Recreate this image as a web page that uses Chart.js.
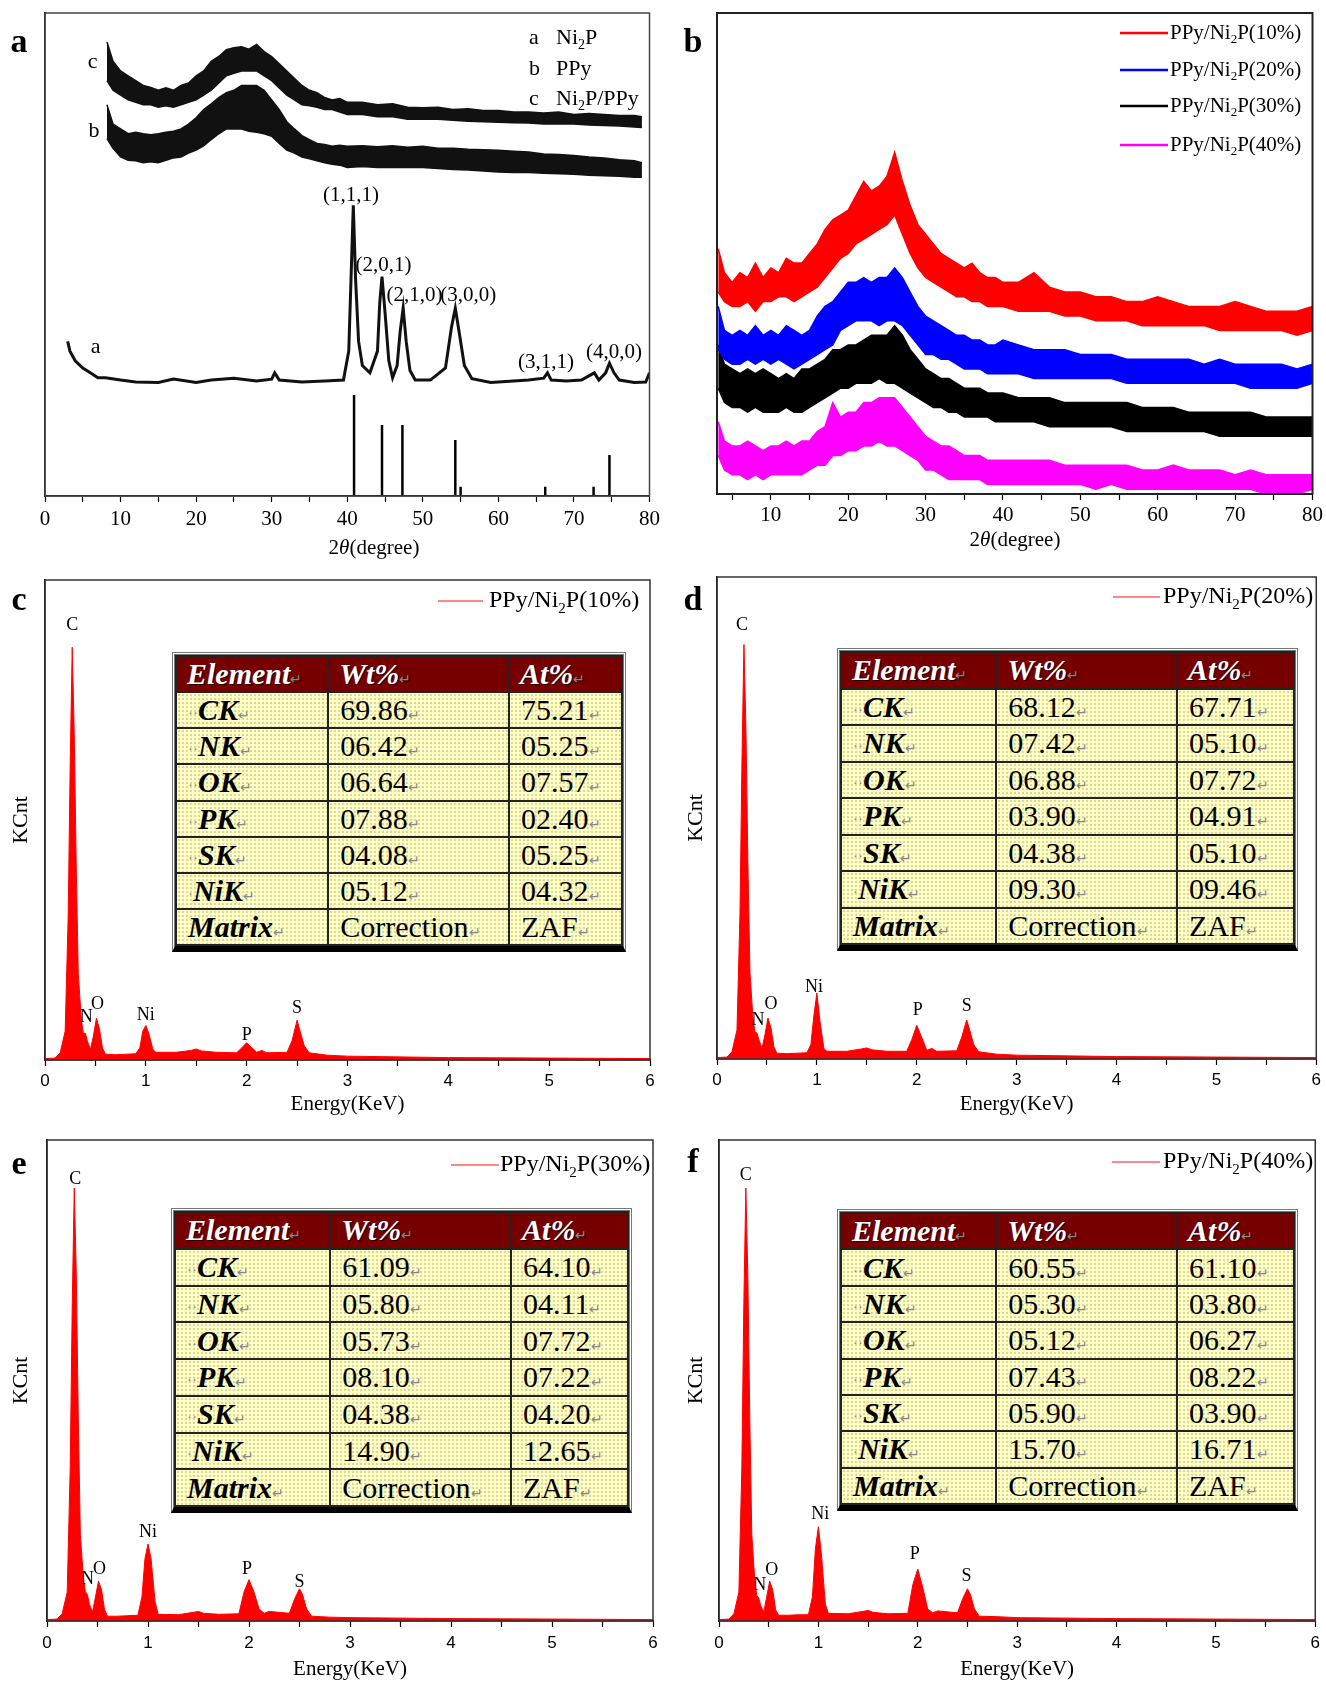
<!DOCTYPE html>
<html>
<head>
<meta charset="utf-8">
<script src="https://cdn.jsdelivr.net/npm/chart.js@4.4.0/dist/chart.umd.min.js"></script>
<style>
body{margin:0;background:#fff;width:1326px;height:1684px;position:relative;overflow:hidden;font-family:"Liberation Serif",serif;}
canvas{position:absolute;}
.tbl{position:absolute;box-sizing:border-box;border:3px double #777;border-bottom:6px solid #000;background:#fff;z-index:2;}
.tbl table{width:100%;height:100%;border-collapse:collapse;table-layout:fixed;font-family:"Liberation Serif",serif;font-size:30px;}
.tbl th{background:#760000;color:#fff;font-weight:bold;font-style:italic;text-align:left;padding:0 0 0 10px;border:2px solid #222;text-shadow:1px 1px 0 #2a0000;white-space:nowrap;overflow:hidden;}
.tbl td{border:2px solid #222;padding:0 0 0 11px;white-space:nowrap;overflow:hidden;color:#000;
  background-color:#ffffc6;background-image:radial-gradient(circle,#dcd89a 0.9px,transparent 1.1px);background-size:4px 4px;}
.tbl .el{font-weight:bold;font-style:italic;}
.tbl .dt{color:#888;font-size:15px;font-weight:normal;font-style:normal;vertical-align:middle;}
.tbl .rt{color:#888;font-size:14px;font-weight:normal;font-style:normal;}
</style>
</head>
<body>
<canvas id="pa" width="665" height="560" style="left:0;top:0"></canvas>
<canvas id="pb" width="658" height="560" style="left:668px;top:0"></canvas>
<canvas id="pc" width="665" height="560" style="left:0;top:565px"></canvas>
<canvas id="pd" width="658" height="560" style="left:668px;top:565px"></canvas>
<canvas id="pe" width="665" height="559" style="left:0;top:1125px"></canvas>
<canvas id="pf" width="658" height="559" style="left:668px;top:1125px"></canvas>
<script>
// ---- panel a : XRD of Ni2P, PPy, Ni2P/PPy ----
var xA = [8.2,9,10,11,12,13,14,15,16,17,18,19,20,21,22,23,24,25,26,27,28,29,30,31,32,33,34,35,36,37,38,39,40,
  42,44,46,48,50,52,54,56,58,60,62,64,66,68,70,72,74,76,78,79];
var cHi = [94,90,88,87,86,85,84.6,84,84.5,84,85,85.5,87,88,90,91,92.4,92.8,93,92.5,93.5,92,91,89.5,88,86.5,85,84,83.5,82.5,82,82.3,81.5,
  81.5,81,81.2,80.5,80.4,80.5,80,80.2,79.8,79.8,79.5,79.5,79.3,79.5,79,79.2,79,78.8,78.8,78.5];
var cLo = [86,84,83,82,81.5,81,81,80.5,80.8,80.5,81,81.5,82,83,84,85.5,87,87.5,88,88,88,87,86,84.5,83,82,81,80.8,80.5,80,80,79.5,79,
  79,78.5,78.5,78,78,78,77.8,77.6,77.5,77.4,77.3,77.2,77,77,77,76.8,76.7,76.6,76.4,76.3];
var bHi = [81,77,76,75,75.3,75,74.8,75,75.3,75.5,76,77,78.3,80,81.2,82.5,83.5,84,85,85,85,84,82,80,77.5,76,74.6,73.8,73,72.8,72.4,72.6,72.4,
  72.5,72.3,72.5,72.2,72.4,72,72,71.8,71.7,71.6,71.4,71.2,70.8,70.7,70.5,70.2,70,69.6,69.4,69];
var bLo = [74,72,70.2,69.5,69.4,69,69.2,69,69.5,70,70.2,71,71.6,72.5,73.8,75,76,76,76,75.5,75.3,75,74.5,73,71.6,71,70.2,69.8,69.4,69,68.7,68.5,68,
  68.2,68,68,68,68,67.8,67.6,67.5,67.3,67.1,67,67,66.8,66.7,66.6,66.4,66.3,66.2,66,66];
var ni2pX = [3,3.3,4,5,6,7,8,10,12,15,17,20,22,25,28,30,30.4,31,34,37,39.5,40.2,40.5,40.8,41.1,41.5,42,43,44,44.3,
  44.6,45,45.5,46,46.6,47,47.4,47.8,48.3,49,51,53,53.8,54.3,54.8,55.5,56.5,59,62,64,66,66.5,67,69,71,72.7,73.3,74.2,74.7,75.3,76,78,79.5,80];
var ni2pY = [32,30,28,26.5,25.5,24.5,24.5,24,23.6,23.5,24.2,23.5,24,24.4,23.8,24.2,25.5,24,23.6,23.8,24,30,45,60.2,45,32,27,25.5,30,40,
  45.4,38,28,24.5,27,34,38.9,32,26,24,24,26.5,35,38.9,34,27,24.3,23.5,23.8,24,24.4,25.5,24,23.8,24,25.5,24,25.5,27.5,25.5,24,23.5,23.6,25.5];
var stickPos = [40.9,44.6,47.3,54.3,55.0,66.2,72.6,74.7];
var stickInt = [20.9,14.7,14.7,11.6,1.9,1.9,1.9,8.5];
var hklText = ['(1,1,1)','(2,0,1)','(2,1,0)','(3,0,0)','(3,1,1)','(4,0,0)'];
var hklX = [40.5,44.8,48.9,56.0,66.3,75.3];
var hklY = [62.3,47.8,41.6,41.6,27.7,29.8];
var tagsA = ['a','b','c'];
var namesA = ['Ni_2P','PPy','Ni_2P/PPy'];

// ---- panel b : XRD of PPy/Ni2P composites ----
var xB = [3.2,4,5,6,7,8,9,10,11,12,13,14,15,16,17,18,19,20,21,22,23,24,25,26,27,28,29,30,31,32,33,34,35,36,37,38,39,40,
  42,44,46,48,50,52,54,56,58,60,62,64,66,68,70,72,74,76,78,80];
var p10Hi = [51,46,44,46,45,48,45,47,46,49,48,48,50,52,55,57,58,59,62,65,63,64,66,71,65,60,56,54,52,50,49,48,47,48,46,45,45,44,
  44,46,43,42,42,41,41,40,40,41,40,39,39,39,40,39,38,38,38,39];
var p10Lo = [42,40,39,39,40,38,40,40,41,41,40,41,42,43,45,47,49,50,52,53,54,55,56,58,54,50,47,45,44,43,42,41,41,40,40,39,39,39,
  38,38,38,37,37,36,36,36,35,35,35,35,35,34,34,34,34,34,33,34];
var p20Hi = [39,34,33,34,33,35,33,34,33,35,34,33,34,37,39,40,42,44,44,45,44,45,45,47,45,42,39,37,36,35,34,33,33,32,32,31,31,32,
  31,30,30,30,29,29,29,28,28,28,28,28,27,28,27,27,27,27,26,27];
var p20Lo = [30,28,27,27,28,27,28,27,28,27,26,27,28,29,30,31,34,35,36,36,36,35,36,36,35,33,31,29,29,28,28,27,26,26,26,25,25,25,
  25,24,24,24,24,24,24,23,23,23,23,23,23,23,23,22,22,22,22,23];
var p30Hi = [31,27,26,25,26,25,26,25,24,25,24,26,26,27,28,30,30,31,31,32,33,33,33,35,33,30,28,26,25,24,24,23,22,22,22,21,21,21,
  20,20,20,19,19,19,19,19,18,18,18,17,17,17,17,17,16,16,16,16];
var p30Lo = [22,19,18,18,17,18,17,17,17,18,17,17,18,19,20,21,22,22,23,23,23,24,23,23,22,21,20,19,18,18,17,17,16,16,16,16,15,15,
  15,15,14,14,14,14,14,13,13,13,13,13,13,12,12,12,12,12,12,12];
var p40Hi = [15,11,10,10,11,10,9,10,10,11,10,11,11,13,14,19,16,17,17,19,19,20,20,20,18,16,14,12,11,10,10,9,8,8,8,7,7,7,
  7,7,7,6,6,6,6,6,5,5,6,5,5,5,4,5,4,4,4,4];
var p40Lo = [8,5,4,4,3,4,3,4,4,4,4,4,5,6,6,8,8,9,9,10,10,11,10,10,9,8,7,5,5,4,3,3,3,3,3,2,2,2,
  2,2,2,2,2,1,2,1,1,1,1,1,1,1,1,1,0,0,0,1];
var namesB = ['PPy/Ni_2P(10%)','PPy/Ni_2P(20%)','PPy/Ni_2P(30%)','PPy/Ni_2P(40%)'];
var colorsB = ['#ff0000','#0000ff','#000000','#ff00ff'];

// ---- panels c-f : EDS spectra ----
var eKeV = [0,0.1,0.15,0.2,0.23,0.25,0.27,0.29,0.31,0.33,0.36,0.38,0.4,0.42,0.45,0.48,0.51,0.54,0.57,0.6,
  0.7,0.8,0.9,0.94,0.97,1.0,1.03,1.07,1.1,1.3,1.45,1.5,1.55,1.7,1.9,1.95,2.0,2.05,2.1,2.15,2.2,2.4,2.45,2.5,2.53,2.57,2.62,2.8,3,4,5,6];
var eds10 = [0.3,0.4,1.5,6,30,62,86,68,40,18,8.5,5.5,5.6,4,2.2,5,8.7,6.5,2.5,1.2,
  1.1,1.2,1.3,2.5,6,7.2,5.5,2.2,1.6,1.6,2.0,2.3,1.9,1.6,1.5,2.5,3.6,2.6,1.6,2.0,1.5,1.6,4,8.3,6,3,1.5,1.0,0.8,0.5,0.4,0.3];
var eds20 = [0.3,0.4,1.5,6,30,62,86,68,40,18,8.5,5.6,5.4,4,2.2,5,8.5,6.5,2.5,1.2,
  1.1,1.2,1.3,3,9,13.7,8,2.2,1.6,1.6,2.1,2.3,1.9,1.6,1.6,4,7,4.5,1.8,2.2,1.6,1.7,4.5,8.1,6,3,1.5,1.0,0.8,0.5,0.4,0.3];
var eds30 = [0.3,0.4,1.5,6,32,66,90,72,42,18,9,6.1,5.5,3.5,1.8,5,8.3,6.5,2.3,1.0,
  1.0,1.1,1.2,5,13,16,13,4,1.4,1.3,1.8,2.0,1.6,1.4,1.5,6,8.6,6,2.5,1.6,2.0,1.6,4.5,6.7,5.5,2.5,1.0,0.8,0.7,0.5,0.4,0.3];
var eds40 = [0.3,0.4,1.5,6,32,66,90,72,42,18,8.5,5.3,4.8,3.2,1.8,5,8.3,6.5,2.3,1.2,
  1.2,1.3,1.3,5,15,19.6,14,3.5,1.6,1.5,2.0,2.2,1.8,1.5,1.6,7.5,10.8,7,2.5,1.7,2.1,1.7,4.5,6.7,5.5,2.5,1.0,0.9,0.7,0.5,0.4,0.3];
var peakNames = ['C','N','O','Ni','P','S'];
var peakX10 = [0.27,0.41,0.52,1.0,2.0,2.5],  peakY10 = [90.6,9,11.6,9.4,5.1,10.7];
var peakX20 = [0.25,0.41,0.54,0.97,2.01,2.5], peakY20 = [90,8.1,11.3,14.8,10.1,10.9];
var peakX30 = [0.28,0.40,0.52,1.0,1.98,2.5],  peakY30 = [91.8,8.6,10.8,18.5,10.8,8.1];
var peakX40 = [0.27,0.41,0.53,1.02,1.97,2.49], peakY40 = [92.7,7.5,10.5,22.2,13.8,9.4];

// ---- EDS quantification tables ----
var elements = ['CK','NK','OK','PK','SK','NiK','Matrix'];
var elDots = ['··','··','··','··','··','·',''];
var wt10 = ['69.86','06.42','06.64','07.88','04.08','05.12','Correction'];
var at10 = ['75.21','05.25','07.57','02.40','05.25','04.32','ZAF'];
var wt20 = ['68.12','07.42','06.88','03.90','04.38','09.30','Correction'];
var at20 = ['67.71','05.10','07.72','04.91','05.10','09.46','ZAF'];
var wt30 = ['61.09','05.80','05.73','08.10','04.38','14.90','Correction'];
var at30 = ['64.10','04.11','07.72','07.22','04.20','12.65','ZAF'];
var wt40 = ['60.55','05.30','05.12','07.43','05.90','15.70','Correction'];
var at40 = ['61.10','03.80','06.27','08.22','03.90','16.71','ZAF'];

var SERIF = '"Liberation Serif", serif';
Chart.defaults.font.family = SERIF;
Chart.defaults.color = '#000';

function parseSub(s) {
  var out = [], buf = '';
  for (var i = 0; i < s.length; i++) {
    if (s[i] === '_') { if (buf) out.push([buf, '']); buf = ''; out.push([s[i + 1], 's']); i++; }
    else buf += s[i];
  }
  if (buf) out.push([buf, '']);
  return out;
}
function fontFor(st, size) {
  st = st || '';
  var fs = st.indexOf('s') >= 0 ? Math.round(size * 0.62) : size;
  return (st.indexOf('i') >= 0 ? 'italic ' : '') + (st.indexOf('b') >= 0 ? 'bold ' : '') + fs + 'px ' + SERIF;
}
function richWidth(ctx, parts, size) {
  var w = 0;
  parts.forEach(function (p) { ctx.font = fontFor(p[1], size); w += ctx.measureText(p[0]).width; });
  return w;
}
function drawRich(ctx, parts, x, y, size) {
  parts.forEach(function (p) {
    ctx.font = fontFor(p[1], size);
    ctx.fillText(p[0], x, (p[1] || '').indexOf('s') >= 0 ? y + size * 0.32 : y);
    x += ctx.measureText(p[0]).width;
  });
}

// frame, panel letter, peak labels and legend
var extras = {
  id: 'extras',
  afterDraw: function (chart, args, o) {
    var ctx = chart.ctx, a = chart.chartArea, sx = chart.scales.x, sy = chart.scales.y;
    ctx.save();
    ctx.strokeStyle = o.frame || '#333';
    ctx.lineWidth = o.frameW || 1.5;
    ctx.strokeRect(a.left, a.top, a.right - a.left, a.bottom - a.top);
    ctx.fillStyle = '#000';
    ctx.textBaseline = 'middle';
    ctx.textAlign = 'center';
    ctx.font = 'bold 34px ' + SERIF;
    ctx.fillText(o.letter, o.letterAt[0], o.letterAt[1]);
    (o.marks || []).forEach(function (m) {
      ctx.font = m[3] + 'px ' + SERIF;
      ctx.fillText(m[0], sx.getPixelForValue(m[1]), sy.getPixelForValue(m[2]));
    });
    ctx.textAlign = 'left';
    (o.legend || []).forEach(function (e) {
      if (e.color) {
        ctx.strokeStyle = e.color; ctx.lineWidth = e.lw;
        ctx.beginPath(); ctx.moveTo(e.x0, e.y); ctx.lineTo(e.x1, e.y); ctx.stroke();
      }
      ctx.fillStyle = '#000';
      if (e.tag) { ctx.font = e.size + 'px ' + SERIF; ctx.fillText(e.tag, e.tagX, e.y); }
      drawRich(ctx, e.parts, e.tx, e.y, e.size);
    });
    if (o.xTitle) {
      var w = richWidth(ctx, o.xTitle.parts, o.xTitle.size);
      drawRich(ctx, o.xTitle.parts, o.xTitle.cx - w / 2, o.xTitle.y, o.xTitle.size);
    }
    ctx.restore();
  }
};

function pts(xs, ys) { return xs.map(function (x, i) { return {x: x, y: ys[i]}; }); }
function band(xs, hi, lo, color) {
  return [
    {data: pts(xs, hi), borderColor: color, backgroundColor: color, borderWidth: 1.5, fill: '+1', pointRadius: 0},
    {data: pts(xs, lo), borderColor: color, borderWidth: 1.5, fill: false, pointRadius: 0}
  ];
}

function makePanel(id, datasets, c) {
  return new Chart(document.getElementById(id), {
    type: 'line',
    data: {datasets: datasets},
    options: {
      responsive: false, animation: false, devicePixelRatio: 1,
      layout: {padding: c.pad},
      elements: {point: {radius: 0}, line: {tension: 0}},
      plugins: {legend: {display: false}, tooltip: {enabled: false}, extras: c.extras},
      scales: {
        x: {
          type: 'linear', min: c.xMin, max: c.xMax,
          afterFit: function (s) { s.height = c.xH; },
          grid: {drawOnChartArea: false, drawTicks: true, tickLength: 6, color: '#000', tickWidth: 1.2},
          border: {color: '#000', width: 1.5},
          ticks: {
            stepSize: c.step, autoSkip: false, maxRotation: 0, includeBounds: false, padding: c.tickPad,
            color: '#000', font: {family: c.tickFamily, size: c.tickSize},
            callback: function (v) { var q = v / c.every; return Math.abs(q - Math.round(q)) < 1e-6 ? String(Math.round(v)) : ''; }
          },
          title: c.xTitle ? {display: true, text: c.xTitle, color: '#000', font: {size: 21, family: SERIF},
            padding: {top: 0, bottom: c.xTitlePad}} : {display: false}
        },
        y: {
          min: 0, max: 100,
          afterFit: function (s) { s.width = c.yW; },
          grid: {display: false},
          border: {color: '#000', width: 1.5},
          ticks: {display: false},
          title: c.yTitle ? {display: true, text: c.yTitle, color: '#000', font: {size: 22, family: SERIF},
            padding: {top: c.yTitlePad, bottom: 0}} : {display: false}
        }
      }
    },
    plugins: [extras]
  });
}

// panel a
var sticks = [];
stickPos.forEach(function (p, i) { sticks.push({x: p, y: 0}, {x: p, y: stickInt[i]}, {x: p, y: null}); });
var marksA = hklText.map(function (t, i) { return [t, hklX[i], hklY[i], 21]; })
  .concat([['a', 6.7, 30.8, 22], ['b', 6.5, 75.6, 22], ['c', 6.3, 89.9, 22]]);
makePanel('pa',
  band(xA, cHi, cLo, '#111').concat(band(xA, bHi, bLo, '#111')).concat([
    {data: pts(ni2pX, ni2pY), borderColor: '#111', borderWidth: 3, fill: false, pointRadius: 0},
    {data: sticks, borderColor: '#000', borderWidth: 2.5, fill: false, pointRadius: 0, spanGaps: false}
  ]),
  {xMin: 0, xMax: 80, step: 5, every: 10, tickFamily: SERIF, tickSize: 21, tickPad: 5,
   pad: {top: 13, right: 15, left: 0, bottom: 0}, yW: 45, xH: 64,
   extras: {letter: 'a', letterAt: [19, 43], frame: '#444', frameW: 1.5, marks: marksA,
     legend: namesA.map(function (n, i) { return {tag: tagsA[i], tagX: 529, parts: parseSub(n), tx: 556, y: [38, 69, 99][i], size: 22}; }),
     xTitle: {parts: [['2', ''], ['θ', 'i'], ['(degree)', '']], cx: 374, y: 548, size: 21}}});

// panel b
var dsB = band(xB, p10Hi, p10Lo, colorsB[0]).concat(band(xB, p20Hi, p20Lo, colorsB[1]),
  band(xB, p30Hi, p30Lo, colorsB[2]), band(xB, p40Hi, p40Lo, colorsB[3]));
makePanel('pb', dsB,
  {xMin: 3.04, xMax: 80, step: 5, every: 10, tickFamily: SERIF, tickSize: 21, tickPad: 3,
   pad: {top: 13, right: 11, left: 0, bottom: 0}, yW: 49, xH: 66,
   extras: {letter: 'b', letterAt: [25, 43], frame: '#222', frameW: 2,
     legend: namesB.map(function (n, i) { return {color: colorsB[i], lw: 2.5, x0: 452, x1: 500, parts: parseSub(n), tx: 502, y: [33, 70, 106, 145][i], size: 21}; }),
     xTitle: {parts: [['2', ''], ['θ', 'i'], ['(degree)', '']], cx: 347, y: 540, size: 21}}});

// panels c-f
function edsPanel(id, ys, px, py, letter, name, geo) {
  makePanel(id, [{data: pts(eKeV, ys), borderColor: '#ff0000', backgroundColor: '#ff0000', borderWidth: 1, fill: 'origin', pointRadius: 0}],
    {xMin: 0, xMax: 6, step: 0.5, every: 1, tickFamily: '"Liberation Sans", sans-serif', tickSize: 17, tickPad: geo.tickPad,
     pad: geo.pad, yW: geo.yW, xH: geo.xH, xTitle: 'Energy(KeV)', xTitlePad: geo.xTitlePad,
     yTitle: 'KCnt', yTitlePad: geo.yTitlePad,
     extras: {letter: letter, letterAt: geo.letterAt, frame: '#333', frameW: 1.5,
       marks: peakNames.map(function (n, i) { return [n, px[i], py[i], 18]; }),
       legend: [{color: '#ff6060', lw: 1.5, x0: geo.leg[0], x1: geo.leg[1], parts: parseSub(name), tx: geo.leg[2], y: geo.leg[3], size: 24}]}});
}
edsPanel('pc', eds10, peakX10, peakY10, 'c', 'PPy/Ni_2P(10%)',
  {pad: {top: 15, right: 15, left: 0, bottom: 0}, yW: 45, xH: 65, tickPad: 5, xTitlePad: 8, yTitlePad: 8,
   letterAt: [19, 36], leg: [438, 483, 489, 36]});
edsPanel('pd', eds20, peakX20, peakY20, 'd', 'PPy/Ni_2P(20%)',
  {pad: {top: 12, right: 8, left: 0, bottom: 0}, yW: 49, xH: 66, tickPad: 5, xTitlePad: 8, yTitlePad: 15,
   letterAt: [25, 36], leg: [445, 492, 495, 32]});
edsPanel('pe', eds30, peakX30, peakY30, 'e', 'PPy/Ni_2P(30%)',
  {pad: {top: 15, right: 12, left: 0, bottom: 0}, yW: 47, xH: 63, tickPad: 6, xTitlePad: 2, yTitlePad: 8,
   letterAt: [19, 40], leg: [451, 499, 500, 40]});
edsPanel('pf', eds40, peakX40, peakY40, 'f', 'PPy/Ni_2P(40%)',
  {pad: {top: 15, right: 8, left: 0, bottom: 0}, yW: 51, xH: 63, tickPad: 6, xTitlePad: 2, yTitlePad: 15,
   letterAt: [25, 38], leg: [444, 492, 495, 37]});

// tables
function makeTable(box, wt, at) {
  var div = document.createElement('div');
  div.className = 'tbl';
  div.style.left = box.left + 'px'; div.style.top = box.top + 'px';
  div.style.width = box.w + 'px'; div.style.height = box.h + 'px';
  var tot = box.cols[0] + box.cols[1] + box.cols[2];
  var h = '<table><colgroup>' + box.cols.map(function (w) { return '<col style="width:' + (100 * w / tot).toFixed(2) + '%">'; }).join('') + '</colgroup>';
  h += '<tr><th>Element<span class="rt">↵</span></th><th>Wt%<span class="rt">↵</span></th><th>At%<span class="rt">↵</span></th></tr>';
  elements.forEach(function (el, i) {
    h += '<tr><td><span class="dt">' + elDots[i] + '</span><span class="el">' + el + '</span><span class="rt">↵</span></td>' +
      '<td>' + wt[i] + '<span class="rt">↵</span></td><td>' + at[i] + '<span class="rt">↵</span></td></tr>';
  });
  div.innerHTML = h + '</table>';
  document.body.appendChild(div);
}
makeTable({left: 172, top: 652, w: 454, h: 300, cols: [155, 184, 115]}, wt10, at10);
makeTable({left: 837, top: 648, w: 461, h: 303, cols: [158, 184, 119]}, wt20, at20);
makeTable({left: 171, top: 1208, w: 461, h: 305, cols: [158, 184, 119]}, wt30, at30);
makeTable({left: 837, top: 1209, w: 461, h: 302, cols: [158, 184, 119]}, wt40, at40);
</script>
</body>
</html>
